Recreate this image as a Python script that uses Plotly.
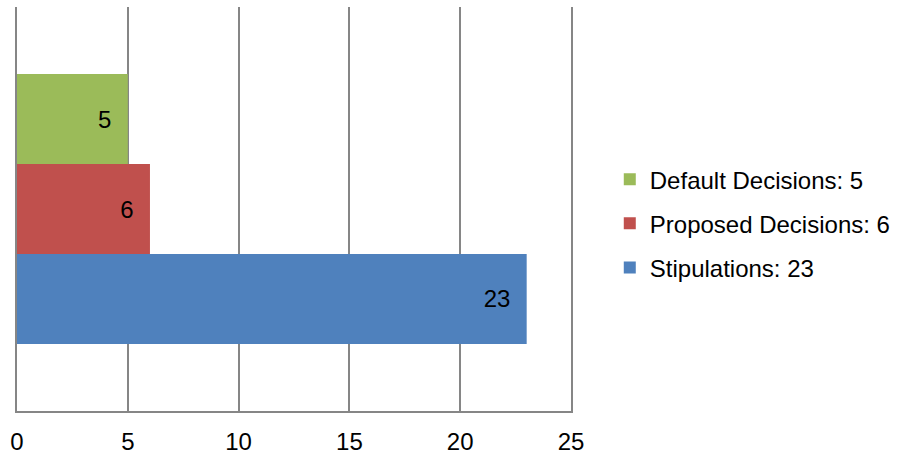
import plotly.graph_objects as go

category = ["Items"]
series_names = ["Stipulations: 23", "Proposed Decisions: 6", "Default Decisions: 5"]
series_values = [[23], [6], [5]]
series_colors = ["#4F81BD", "#C0504D", "#9BBB59"]
legend_ranks = [3, 2, 1]
x_ticks = [0, 5, 10, 15, 20, 25]

fig = go.Figure()
for i, (name, vals, col, rk) in enumerate(zip(series_names, series_values, series_colors, legend_ranks)):
    fig.add_trace(go.Bar(
        y=category, x=vals, name=name, orientation="h", legendgroup=f"g{rk}",
        legendrank=rk,
        marker=dict(color=col, line=dict(width=0)),
        text=[str(v) for v in vals], texttemplate="%{text}\u00a0\u00a0",
        textposition="inside", insidetextanchor="end",
        textfont=dict(color="black", size=24, family="Liberation Sans, Arial"),
    ))

grid = "#868686"
fig.update_layout(
    width=917, height=454,
    margin=dict(l=17, r=346, t=7, b=43),
    paper_bgcolor="white", plot_bgcolor="white",
    barmode="group", bargap=0.332, bargroupgap=0,
    font=dict(family="Liberation Sans, Arial", size=24, color="black"),
    showlegend=True,
    legend=dict(traceorder="grouped", x=1.07, y=0.464, xanchor="left", yanchor="middle",
                font=dict(size=24), itemsizing="constant", tracegroupgap=10,
                bgcolor="rgba(0,0,0,0)"),
    xaxis=dict(range=[0, 25], tickvals=x_ticks, showgrid=True, gridcolor=grid, gridwidth=2,
               zeroline=False, showline=True, linecolor=grid, linewidth=2,
               ticks="", ticklabelstandoff=8, automargin=False, fixedrange=True),
    yaxis=dict(showticklabels=False, showgrid=False, zeroline=False, showline=True,
               mirror=True, linecolor=grid, linewidth=2,
               ticks="", range=[-0.5, 0.5], automargin=False),
)
fig.write_html("out.html")
